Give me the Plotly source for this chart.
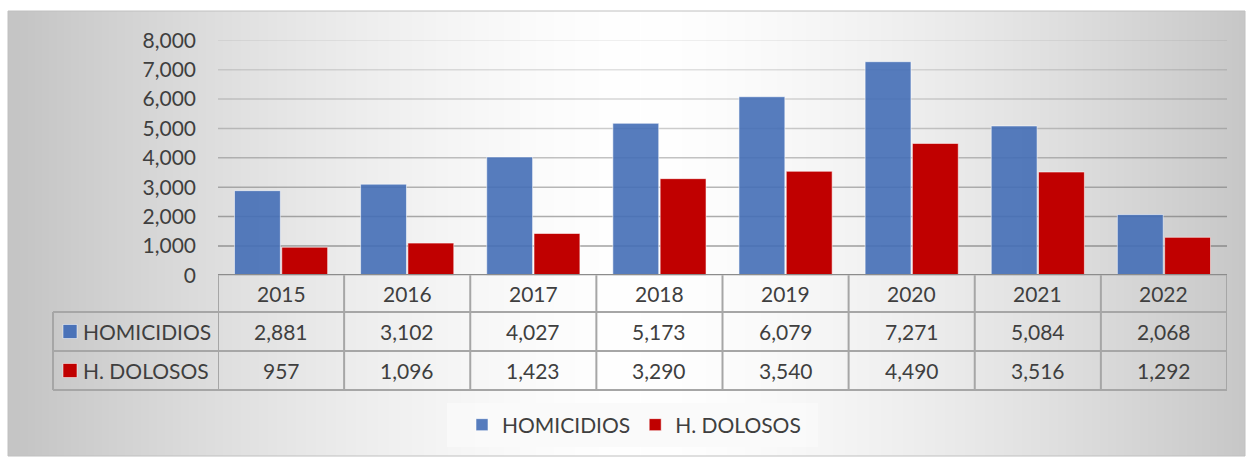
import base64
import struct
import zlib

import numpy as np
import plotly.graph_objects as go

# ---------------- data ----------------
years = ["2015", "2016", "2017", "2018", "2019", "2020", "2021", "2022"]
homicidios = [2881, 3102, 4027, 5173, 6079, 7271, 5084, 2068]
dolosos = [957, 1096, 1423, 3290, 3540, 4490, 3516, 1292]
series_names = ["HOMICIDIOS", "H. DOLOSOS"]
y_ticks = [0, 1000, 2000, 3000, 4000, 5000, 6000, 7000, 8000]

# ---------------- layout constants (pixels) ----------------
W, H = 1246, 457
FRAME = (8, 11, 1245, 456)            # x0, y0, x1, y1 of the grey chart box
PLOT_X = (218, 1227)                   # plot area left / right
PLOT_Y = (40.3, 275.3)                 # top (8000) / bottom (0)
ROWS = [275.3, 312, 351, 390]          # table row boundaries
LABEL_X0 = 53                          # left edge of row-label column
LEGEND_BOX = (447, 403, 818, 447)

BLUE = "rgba(68,110,182,0.9)"
BLUE_SOLID = "#4A72B8"
RED = "#C00000"
TEXT = "#3f3f3f"
FONT = "Lato, 'Open Sans', sans-serif"
FS = 21
BORDER = "#a6a6a6"


def px(x):
    return x / W


def py(y):
    return 1 - y / H


# ---------------- background gradient as an inline PNG ----------------
def png_uri(arr):
    h, w, _ = arr.shape
    raw = b"".join(b"\x00" + arr[r].tobytes() for r in range(h))

    def chunk(tag, data):
        c = struct.pack(">I", len(data)) + tag + data
        return c + struct.pack(">I", zlib.crc32(tag + data) & 0xFFFFFFFF)

    png = (b"\x89PNG\r\n\x1a\n"
           + chunk(b"IHDR", struct.pack(">IIBBBBB", w, h, 8, 2, 0, 0, 0))
           + chunk(b"IDAT", zlib.compress(raw, 9))
           + chunk(b"IEND", b""))
    return "data:image/png;base64," + base64.b64encode(png).decode()


gw = FRAME[2] - FRAME[0]
xs = FRAME[0] + np.arange(gw)
t = np.clip(np.abs(xs - 640) / 620.0, 0, 1)
g = (255 - 58 * t ** 1.5).astype(np.uint8)
grad = np.repeat(np.stack([g, g, g], axis=-1)[None, :, :], 4, axis=0)
bg_uri = png_uri(grad)

# ---------------- figure ----------------
n = len(years)
idx = list(range(n))

fig = go.Figure()
fig.add_trace(go.Bar(
    x=years, y=homicidios, name=series_names[0],
    marker=dict(color=BLUE, line=dict(color="rgba(255,255,255,0.55)", width=1)),
))
fig.add_trace(go.Bar(
    x=years, y=dolosos, name=series_names[1],
    marker=dict(color=RED, line=dict(color="rgba(255,255,255,0.55)", width=1)),
))

shapes = []
# chart frame
shapes.append(dict(type="rect", xref="paper", yref="paper",
                   x0=px(FRAME[0]), x1=px(FRAME[2]), y0=py(FRAME[3]), y1=py(FRAME[1]),
                   line=dict(color="#c0c0c0", width=1), fillcolor="rgba(0,0,0,0)",
                   layer="below"))
# legend background
shapes.append(dict(type="rect", xref="paper", yref="paper",
                   x0=px(LEGEND_BOX[0]), x1=px(LEGEND_BOX[2]),
                   y0=py(LEGEND_BOX[3]), y1=py(LEGEND_BOX[1]),
                   line=dict(width=0), fillcolor="rgba(250,250,250,0.9)",
                   layer="below"))
# gridlines, fading towards the top
for v in y_ticks[1:]:
    a = 0.55 - 0.43 * (v - 1000) / 7000
    shapes.append(dict(type="line", xref="paper", yref="y",
                       x0=px(PLOT_X[0]), x1=px(PLOT_X[1]), y0=v, y1=v,
                       line=dict(color=f"rgba(90,90,90,{a:.3f})", width=1.5),
                       layer="below"))
# table: vertical lines between categories
for k in range(n + 1):
    shapes.append(dict(type="line", xref="x", yref="paper",
                       x0=k - 0.5, x1=k - 0.5, y0=py(ROWS[0]), y1=py(ROWS[3]),
                       line=dict(color=BORDER, width=2)))
# label column left edge
shapes.append(dict(type="line", xref="paper", yref="paper",
                   x0=px(LABEL_X0), x1=px(LABEL_X0), y0=py(ROWS[1]), y1=py(ROWS[3]),
                   line=dict(color=BORDER, width=2)))
# horizontal table lines
for r in ROWS[1:]:
    shapes.append(dict(type="line", xref="paper", yref="paper",
                       x0=px(LABEL_X0), x1=px(PLOT_X[1]), y0=py(r), y1=py(r),
                       line=dict(color=BORDER, width=2)))
# axis baseline / table top
shapes.append(dict(type="line", xref="paper", yref="y",
                   x0=px(PLOT_X[0]), x1=px(PLOT_X[1]), y0=0, y1=0,
                   line=dict(color="#8c8c8c", width=2.5)))

annotations = []
row_centers = [(ROWS[i] + ROWS[i + 1]) / 2 for i in range(3)]
cell_font = dict(family=FONT, size=FS, color=TEXT)
for i in idx:
    for row, txt in enumerate([years[i], f"{homicidios[i]:,}", f"{dolosos[i]:,}"]):
        annotations.append(dict(x=i, xref="x", y=py(row_centers[row]), yref="paper",
                                xanchor="center", yanchor="middle",
                                text=txt, showarrow=False, font=cell_font))

# row labels with colour keys
key_colors = [BLUE_SOLID, RED]
for j, name in enumerate(series_names):
    yc = row_centers[j + 1]
    shapes.append(dict(type="rect", xref="paper", yref="paper",
                       x0=px(63), x1=px(77), y0=py(yc + 7), y1=py(yc - 7),
                       fillcolor=key_colors[j],
                       line=dict(color="rgba(255,255,255,0.5)", width=1)))
    annotations.append(dict(x=px(81), xref="paper", y=py(yc), yref="paper",
                            xanchor="left", yanchor="middle", text=name,
                            showarrow=False, font=cell_font))

fig.update_layout(
    template="none",
    width=W, height=H, autosize=False,
    margin=dict(l=0, r=0, t=0, b=0, pad=0, autoexpand=False),
    paper_bgcolor="white",
    plot_bgcolor="rgba(0,0,0,0)",
    barmode="group", bargap=0.25, bargroupgap=0.03,
    font=dict(family=FONT, size=FS, color=TEXT),
    xaxis=dict(type="category", domain=[px(PLOT_X[0]), px(PLOT_X[1])],
               range=[-0.5, n - 0.5], showticklabels=False, showgrid=False,
               showline=False, zeroline=False, ticks="", automargin=False),
    yaxis=dict(domain=[py(PLOT_Y[1]), py(PLOT_Y[0])], range=[0, 8000],
               tickvals=y_ticks, tickformat=",", showgrid=False, zeroline=False,
               showline=False, ticks="", ticklabelstandoff=21, automargin=False,
               tickfont=dict(family=FONT, size=FS, color=TEXT)),
    showlegend=True,
    legend=dict(orientation="h", x=px(634), y=py(425), xanchor="center",
                yanchor="middle", bgcolor="rgba(0,0,0,0)",
                font=dict(family=FONT, size=FS, color=TEXT),
                borderwidth=0),
    shapes=shapes,
    annotations=annotations,
    images=[dict(source=bg_uri, xref="paper", yref="paper",
                 x=px(FRAME[0]), y=py(FRAME[1]),
                 sizex=px(FRAME[2] - FRAME[0]), sizey=(FRAME[3] - FRAME[1]) / H,
                 xanchor="left", yanchor="top", sizing="stretch", layer="below")],
)

fig.write_html("out.html")
